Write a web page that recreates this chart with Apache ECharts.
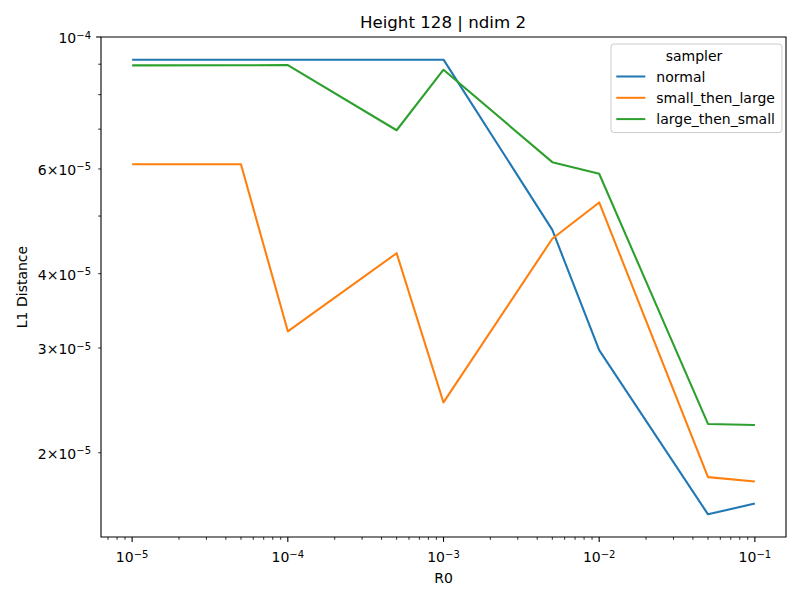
<!DOCTYPE html>
<html>
<head>
<meta charset="utf-8">
<script src="https://cdn.jsdelivr.net/npm/echarts@6/dist/echarts.min.js"></script>
<style>
  html, body { margin: 0; padding: 0; background: #fff; }
  #chart { width: 800px; height: 600px; }
</style>
</head>
<body>
<div id="chart"></div>
<script>
// values (log-log)
var r0 = [1e-5, 5e-5, 1e-4, 5e-4, 1e-3, 5e-3, 1e-2, 5e-2, 1e-1];
var normal = [9.16e-5, 9.16e-5, 9.16e-5, 9.16e-5, 9.16e-5, 4.74e-5, 2.975e-5, 1.576e-5, 1.643e-5];
var smallThenLarge = [6.11e-5, 6.11e-5, 3.20e-5, 4.33e-5, 2.43e-5, 4.58e-5, 5.27e-5, 1.82e-5, 1.79e-5];
var largeThenSmall = [8.96e-5, 8.965e-5, 8.97e-5, 6.97e-5, 8.81e-5, 6.16e-5, 5.89e-5, 2.236e-5, 2.227e-5];

// tick positions and labels
var xMajor = [1e-5, 1e-4, 1e-3, 1e-2, 1e-1];
var xMajorLabels = ['{b|10}{s|\u22125}', '{b|10}{s|\u22124}', '{b|10}{s|\u22123}', '{b|10}{s|\u22122}', '{b|10}{s|\u22121}'];
var xMinor = [7e-6, 8e-6, 9e-6,
  2e-5, 3e-5, 4e-5, 5e-5, 6e-5, 7e-5, 8e-5, 9e-5,
  2e-4, 3e-4, 4e-4, 5e-4, 6e-4, 7e-4, 8e-4, 9e-4,
  2e-3, 3e-3, 4e-3, 5e-3, 6e-3, 7e-3, 8e-3, 9e-3,
  2e-2, 3e-2, 4e-2, 5e-2, 6e-2, 7e-2, 8e-2, 9e-2];
var yMajor = [1e-4];
var yMajorLabels = ['{b|10}{s|\u22124}'];
var yMinor = [2e-5, 3e-5, 4e-5, 5e-5, 6e-5, 7e-5, 8e-5, 9e-5];
var yMinorLabels = ['{b|2\u00d710}{s|\u22125}', '{b|3\u00d710}{s|\u22125}', '{b|4\u00d710}{s|\u22125}', '',
  '{b|6\u00d710}{s|\u22125}', '', '', ''];

var X_MIN = Math.pow(10, -5.2), X_MAX = Math.pow(10, -0.8);
var Y_MIN = Math.pow(10, -4.8406), Y_MAX = 1e-4;
var FONT = 'DejaVu Sans';

var RICH = {
  b: { fontSize: 14, lineHeight: 16, fontFamily: FONT, fill: '#000' },
  s: { fontSize: 10, lineHeight: 10, verticalAlign: 'top', fontFamily: FONT, fill: '#000' }
};

function tickSeries(values, axis, len, width, labels) {
  return {
    type: 'custom',
    silent: true,
    clip: false,
    z: 5,
    data: values.map(function (v) { return axis === 'x' ? [v, Y_MIN] : [X_MIN, v]; }),
    renderItem: function (params, api) {
      var p = api.coord([api.value(0), api.value(1)]);
      var i = params.dataIndex;
      var kids = [];
      if (axis === 'x') {
        kids.push({ type: 'line', shape: { x1: p[0], y1: p[1], x2: p[0], y2: p[1] + len },
          style: { stroke: '#000', lineWidth: width } });
        if (labels && labels[i]) {
          kids.push({ type: 'text', style: { text: labels[i], x: p[0], y: p[1] + 12,
            align: 'center', verticalAlign: 'top', fill: '#000', rich: RICH } });
        }
      } else {
        kids.push({ type: 'line', shape: { x1: p[0], y1: p[1], x2: p[0] - len, y2: p[1] },
          style: { stroke: '#000', lineWidth: width } });
        if (labels && labels[i]) {
          kids.push({ type: 'text', style: { text: labels[i], x: p[0] - 10, y: p[1] + 1,
            align: 'right', verticalAlign: 'middle', fill: '#000', rich: RICH } });
        }
      }
      return { type: 'group', children: kids };
    }
  };
}

function lineSeries(name, ys, color) {
  return {
    name: name,
    type: 'line',
    symbol: 'none',
    z: 3,
    data: r0.map(function (x, i) { return [x, ys[i]]; }),
    lineStyle: { width: 2.08, color: color, join: 'round' },
    itemStyle: { color: color }
  };
}

var myChart = echarts.init(document.getElementById('chart'), null, { renderer: 'svg' });
var option = {
  animation: false,
  backgroundColor: '#fff',
  textStyle: { fontFamily: FONT },
  title: [
    { text: 'Height 128 | ndim 2', left: 443, top: 14, textAlign: 'center', padding: 0,
      textStyle: { fontSize: 16.67, fontWeight: 'normal', color: '#000', fontFamily: FONT } },
    { text: 'sampler', left: 694, top: 49, textAlign: 'center', padding: 0, z: 10,
      textStyle: { fontSize: 14, fontWeight: 'normal', color: '#000', fontFamily: FONT } }
  ],
  legend: {
    data: ['normal', 'small_then_large', 'large_then_small'],
    orient: 'vertical',
    left: 611,
    top: 44,
    padding: [25.5, 7, 6.5, 4.3],
    itemWidth: 29,
    itemHeight: 14,
    itemGap: 7.3,
    // hide the marker drawn in the middle of each legend line
    itemStyle: { opacity: 0, borderWidth: 0 },
    borderColor: '#cccccc',
    borderWidth: 1,
    borderRadius: 3,
    backgroundColor: 'rgba(255,255,255,0.8)',
    textStyle: { fontSize: 14, color: '#000', fontFamily: FONT, padding: [0, 0, 0, 6] }
  },
  grid: { left: 101, right: 14, top: 37, bottom: 63, show: true, borderColor: '#000', borderWidth: 1.1 },
  xAxis: {
    type: 'log', logBase: 10, min: X_MIN, max: X_MAX,
    axisLine: { show: false }, axisTick: { show: false }, axisLabel: { show: false },
    splitLine: { show: false },
    name: 'R0', nameLocation: 'middle', nameGap: 34,
    nameTextStyle: { fontSize: 14, color: '#000', fontFamily: FONT }
  },
  yAxis: {
    type: 'log', logBase: 10, min: Y_MIN, max: Y_MAX,
    axisLine: { show: false }, axisTick: { show: false }, axisLabel: { show: false },
    splitLine: { show: false },
    name: 'L1 Distance', nameLocation: 'middle', nameGap: 72, nameRotate: 90,
    nameTextStyle: { fontSize: 14, color: '#000', fontFamily: FONT }
  },
  series: [
    lineSeries('normal', normal, '#1f77b4'),
    lineSeries('small_then_large', smallThenLarge, '#ff7f0e'),
    lineSeries('large_then_small', largeThenSmall, '#2ca02c'),
    tickSeries(xMajor, 'x', 4.9, 1.1, xMajorLabels),
    tickSeries(xMinor, 'x', 2.8, 0.83, null),
    tickSeries(yMajor, 'y', 4.9, 1.1, yMajorLabels),
    tickSeries(yMinor, 'y', 2.8, 0.83, yMinorLabels)
  ]
};
myChart.setOption(option);
</script>
</body>
</html>
